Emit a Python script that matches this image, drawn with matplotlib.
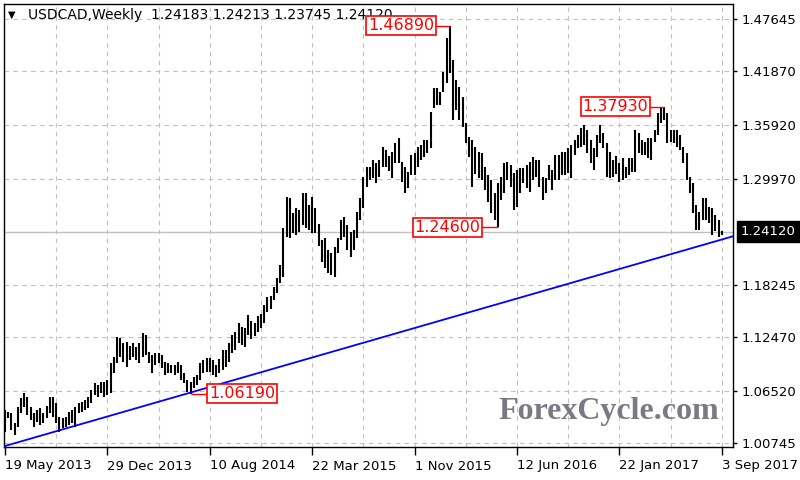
import matplotlib
matplotlib.use('Agg')
import matplotlib.pyplot as plt
import numpy as np
from matplotlib.transforms import blended_transform_factory

symbol = "USDCAD,Weekly"
last_ohlc = ["1.24183", "1.24213", "1.23745", "1.24120"]

highs = [
    1.0439, 1.0421, 1.0402, 1.0292, 1.0476, 1.0568, 1.0624, 1.0587, 1.0476, 1.0402, 1.0439, 1.0458, 1.0402,
    1.0480, 1.0587, 1.0587, 1.0513, 1.0366, 1.0347, 1.0366, 1.0421, 1.0439, 1.0476, 1.0513, 1.0532, 1.0550,
    1.0587, 1.0661, 1.0735, 1.0716, 1.0753, 1.0753, 1.0771, 1.0956, 1.1030, 1.1251, 1.1233, 1.1177, 1.1196,
    1.1150, 1.1177, 1.1140, 1.1177, 1.1288, 1.1270, 1.1085, 1.1048, 1.1067, 1.1067, 1.1048, 1.0974, 1.0956,
    1.0937, 1.0937, 1.0974, 1.0937, 1.0845, 1.0771, 1.0753,
    1.0808, 1.0827, 1.0956, 1.0993, 1.1011, 1.1011, 1.0993, 1.0937,
    1.1000, 1.1103, 1.1103, 1.1177, 1.1270, 1.1306, 1.1399, 1.1362, 1.1343, 1.1491,
    1.1420, 1.1400, 1.1480, 1.1500, 1.1600, 1.1693, 1.1700,
    1.1804, 1.1896, 1.2043, 1.2449, 1.2799, 1.2781, 1.2615, 1.2670, 1.2652, 1.2836, 1.2836, 1.2707, 1.2799, 1.2670,
    1.2500, 1.2320, 1.2338, 1.2209, 1.2172, 1.2246, 1.2338, 1.2541, 1.2578, 1.2486, 1.2412, 1.2431, 1.2633,
    1.2781, 1.3021, 1.3131, 1.3131, 1.3205, 1.3168, 1.3205, 1.3352, 1.3316,
    1.3250, 1.3297, 1.3389, 1.3445, 1.3186, 1.3131, 1.3076, 1.3260, 1.3279, 1.3352, 1.3371, 1.3426, 1.3426,
    1.3740, 1.3998, 1.3998, 1.3961, 1.4182, 1.4551, 1.4689,
    1.4311, 1.4090, 1.4016, 1.3905, 1.3610, 1.3463, 1.3426, 1.3350, 1.3297, 1.3279, 1.3131, 1.3039, 1.2984,
    1.2836, 1.2947,
    1.3020, 1.3168, 1.3186, 1.3149, 1.3057, 1.3094, 1.3113, 1.3113, 1.3149, 1.3186, 1.3242, 1.3205, 1.3205,
    1.3020, 1.3002, 1.3149, 1.3094, 1.3260, 1.3260, 1.3297, 1.3297, 1.3334, 1.3371, 1.3426, 1.3481, 1.3555,
    1.3592, 1.3537, 1.3426, 1.3334, 1.3481, 1.3592, 1.3500, 1.3389, 1.3297, 1.3205,
    1.3250, 1.3168, 1.3223, 1.3131, 1.3223, 1.3223, 1.3537, 1.3500, 1.3426, 1.3408, 1.3445, 1.3445, 1.3537,
    1.3721, 1.3776, 1.3793,
    1.3721, 1.3537, 1.3537, 1.3537, 1.3481, 1.3352, 1.3279, 1.3020, 1.2947, 1.2707, 1.2634, 1.2781, 1.2781,
    1.2689, 1.2670, 1.2600, 1.2541, 1.24213,
]

lows = [
    1.0199, 1.0347, 1.0218, 1.0163, 1.0255, 1.0402, 1.0476, 1.0384, 1.0329, 1.0255, 1.0310, 1.0273, 1.0292,
    1.0350, 1.0402, 1.0366, 1.0292, 1.0199, 1.0236, 1.0255, 1.0273, 1.0292, 1.0255, 1.0402, 1.0421, 1.0439,
    1.0458, 1.0513, 1.0605, 1.0587, 1.0624, 1.0587, 1.0605, 1.0624, 1.0845, 1.0956, 1.1030, 1.0974, 1.0919,
    1.0990, 1.1030, 1.0993, 1.0956, 1.1030, 1.1048, 1.0956, 1.0845, 1.0937, 1.0956, 1.0901, 1.0827, 1.0845,
    1.0845, 1.0827, 1.0845, 1.0771, 1.0735, 1.0642, 1.0619,
    1.0679, 1.0716, 1.0771, 1.0845, 1.0864, 1.0864, 1.0827, 1.0808,
    1.0850, 1.0882, 1.0919, 1.0974, 1.1067, 1.1103, 1.1177, 1.1159, 1.1140, 1.1270,
    1.1230, 1.1260, 1.1300, 1.1350, 1.1400, 1.1520, 1.1560,
    1.1656, 1.1730, 1.1841, 1.1914, 1.2357, 1.2338, 1.2394, 1.2375, 1.2412, 1.2486, 1.2449, 1.2431, 1.2394, 1.2394,
    1.2250, 1.2080, 1.2007, 1.1951, 1.1933, 1.1914, 1.2172, 1.2320, 1.2357, 1.2209, 1.2136, 1.2209, 1.2338,
    1.2541, 1.2670, 1.2910, 1.2984, 1.3002, 1.2947, 1.3021, 1.3131, 1.3131,
    1.3080, 1.3002, 1.3168, 1.3168, 1.2965, 1.2836, 1.2892, 1.3039, 1.3039, 1.3131, 1.3205, 1.3242, 1.3279,
    1.3334, 1.3776, 1.3813, 1.3813, 1.3961, 1.4053, 1.4164,
    1.3647, 1.3758, 1.3647, 1.3574, 1.3389, 1.3242, 1.2910, 1.3050, 1.3002, 1.2984, 1.2873, 1.2744, 1.2615,
    1.2541, 1.2460,
    1.2762, 1.2836, 1.2984, 1.2910, 1.2652, 1.2689, 1.2836, 1.2947, 1.2891, 1.2855, 1.2984, 1.3020, 1.2910,
    1.2762, 1.2836, 1.2984, 1.2873, 1.2984, 1.2984, 1.3039, 1.3039, 1.3057, 1.3002, 1.3260, 1.3334, 1.3352,
    1.3371, 1.3279, 1.3168, 1.3094, 1.3242, 1.3389, 1.3334, 1.3020, 1.3002, 1.3020,
    1.3050, 1.2965, 1.2984, 1.3002, 1.3039, 1.3076, 1.3076, 1.3279, 1.3260, 1.3260, 1.3223, 1.3205, 1.3408,
    1.3481, 1.3610, 1.3647,
    1.3389, 1.3408, 1.3389, 1.3352, 1.3316, 1.3168, 1.2984, 1.2836, 1.2615, 1.2431, 1.2431, 1.2541, 1.2541,
    1.2505, 1.2375, 1.2420, 1.2357, 1.23745,
]

x_tick_weeks = [0, 32, 64, 96, 128, 160, 192, 224]
x_tick_labels = ["19 May 2013", "29 Dec 2013", "10 Aug 2014", "22 Mar 2015",
                 "1 Nov 2015", "12 Jun 2016", "22 Jan 2017", "3 Sep 2017"]
y_ticks = [1.00745, 1.06520, 1.12470, 1.18245, 1.29970, 1.35920, 1.41870, 1.47645]
current_price = 1.24120
trend_start = (0, 1.0041)
trend_end = (224, 1.2325)

# annotated extremes: (bar week, price, label)
ann_weeks = [139, 206, 154, 58]
ann_prices = [1.46890, 1.37930, 1.24600, 1.06190]
ann_labels = ["1.46890", "1.37930", "1.24600", "1.06190"]
# layout of annotation boxes (box centre week, box edge week)
ann_box_centre = [123.75, 190.8, 138.3, 74.2]
ann_box_edge = [134.4, 201.25, 148.4, 63.4]

plt.rcParams['font.family'] = ['DejaVu Sans']

fig = plt.figure(figsize=(8, 4.8), dpi=100)
fig.patch.set_facecolor('white')
ax = fig.add_axes([4 / 800, 33 / 480, 729 / 800, 443 / 480])
ax.set_facecolor('white')
ax.set_xlim(-0.3, 227.5)
ax.set_ylim(1.0030, 1.4930)

# grid
for w in range(16, 228, 16):
    ax.axvline(w, color='#c0c0c0', lw=0.8, ls=(0, (4, 4)), zorder=0)
for p in y_ticks:
    ax.axhline(p, color='#c0c0c0', lw=0.8, ls=(0, (4, 4)), zorder=0)

# current price line
ax.axhline(current_price, color='#c0c0c0', lw=1.0, zorder=1)

# bars
x = np.arange(len(highs))
ax.vlines(x, lows, highs, color='black', lw=1.5, zorder=3)

# trend line
ax.axline(trend_start, trend_end, color='#0000ff', lw=1.3, zorder=4)

# annotations
for w, p, lab, c, e in zip(ann_weeks, ann_prices, ann_labels, ann_box_centre, ann_box_edge):
    ax.plot([w, e], [p, p], color='red', lw=1.0, zorder=5, solid_capstyle='butt')
    ax.text(c, p, lab, color='red', fontsize=11.5, ha='center', va='center', zorder=6,
            bbox=dict(boxstyle='square,pad=0.12', fc='white', ec='red', lw=1.2))

# axes styling
for s in ax.spines.values():
    s.set_color('black')
    s.set_linewidth(1.0)
ax.yaxis.tick_right()
ax.set_yticks(y_ticks)
ax.set_yticklabels([f"{v:.5f}" for v in y_ticks])
ax.tick_params(axis='y', direction='out', length=3, width=1, labelsize=9.5, pad=3, colors='black')
ax.set_xticks(x_tick_weeks)
ax.set_xticklabels(x_tick_labels)
ax.tick_params(axis='x', direction='out', length=6, width=1, labelsize=9.5, pad=3, colors='black')
for t in ax.get_xticklabels():
    t.set_ha('left')

# current price box on the right
tr = blended_transform_factory(ax.transAxes, ax.transData)
ax.text(1.011, current_price, last_ohlc[3], transform=tr, color='white', fontsize=9.5,
        ha='left', va='center', clip_on=False, zorder=10,
        bbox=dict(boxstyle='square,pad=0.3', fc='black', ec='black'))

# header
ax.text(0.006, 0.976, "\u25BC", transform=ax.transAxes, fontsize=7, ha='left', va='center', color='black', zorder=7)
ax.text(0.033, 0.976, symbol + "  " + " ".join(last_ohlc), transform=ax.transAxes,
        fontsize=10, ha='left', va='center', color='black', zorder=2)

# watermark
ax.text(0.6776, 0.081, "ForexCycle.com", transform=ax.transAxes, fontsize=23,
        fontfamily='Liberation Serif', fontweight='bold', color='#7a7a84',
        ha='left', va='center', zorder=2)

fig.savefig('out.png', dpi=100, facecolor='white')
